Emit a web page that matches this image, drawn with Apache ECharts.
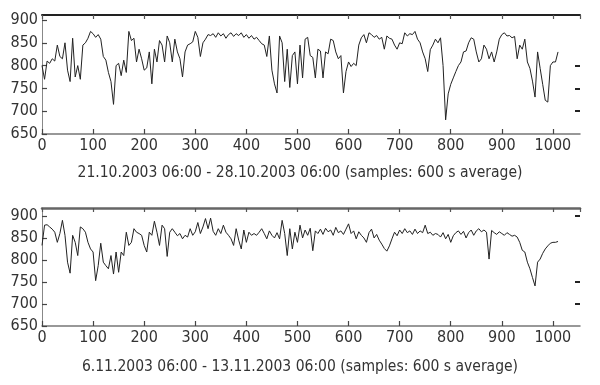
<!DOCTYPE html>
<html>
<head>
<meta charset="utf-8">
<script src="https://cdn.jsdelivr.net/npm/echarts@6/dist/echarts.min.js"></script>
<style>
html,body{margin:0;padding:0;background:#fff;}
#c{width:600px;height:385px;}
</style>
</head>
<body>
<div id="c"></div>
<script>
// sample index step
const step = 5;
const yTicks = [650, 700, 750, 800, 850, 900];
const xTicks = [0, 100, 200, 300, 400, 500, 600, 700, 800, 900, 1000];
const rightTicks = [[700, 750, 800], [700, 750, 900]];
const title1 = '21.10.2003 06:00 - 28.10.2003 06:00 (samples: 600 s average)';
const title2 = '6.11.2003 06:00 - 13.11.2003 06:00 (samples: 600 s average)';

const series1 = [
800,770,810,805,815,810,845,820,815,850,790,765,860,775,800,770,845,850,860,875,
870,862,868,858,820,812,785,765,715,800,805,778,812,785,875,855,860,808,836,815,
790,795,830,760,836,808,855,845,808,865,850,808,858,830,815,775,830,845,848,852,
875,862,820,850,858,868,866,870,862,872,865,870,860,868,872,864,870,866,872,862,
868,860,866,858,862,855,848,845,820,865,790,760,740,865,850,765,836,752,822,830,
760,845,773,858,862,822,818,773,836,832,773,830,826,858,855,830,815,822,740,787,
808,798,805,800,845,861,868,850,872,868,862,866,858,862,836,865,860,858,845,836,
850,848,872,865,870,868,875,858,850,830,815,787,835,845,858,850,861,800,681,738,
759,773,787,800,808,830,832,850,861,858,830,808,815,845,836,815,830,808,830,858,
868,872,865,866,861,864,815,845,836,858,808,794,766,731,830,794,759,724,720,800,
808,808,830
];
const series2 = [
833,879,880,875,870,863,840,860,890,856,795,770,856,840,810,875,871,863,840,825,
818,753,787,838,795,787,780,810,768,818,772,818,810,863,833,840,871,863,860,856,
833,818,863,856,888,863,833,879,871,808,863,871,863,855,860,848,856,852,871,856,
864,885,860,875,894,871,895,865,856,871,860,879,863,856,848,833,871,845,825,868,
840,863,856,860,856,863,871,860,848,866,856,850,862,848,890,860,810,871,825,863,
840,879,850,868,856,872,821,866,860,870,858,872,864,868,856,874,862,866,858,870,
882,860,866,848,864,856,850,840,862,870,850,858,845,836,826,820,832,848,863,855,
868,860,871,862,866,858,870,860,866,862,879,860,863,856,860,858,852,862,848,858,
840,855,862,866,858,865,850,862,868,856,866,871,864,868,863,802,867,862,858,864,
860,856,862,858,854,856,852,840,822,818,795,780,760,741,795,802,815,825,832,838,
840,840,842
];

function toPairs(arr){ return arr.map((v,i)=>[i*step, v]); }

const FONT = '"DejaVu Sans Condensed","Liberation Sans Narrow",sans-serif';
const labelStyle = {fontFamily: FONT, fontSize: 16, color: '#333'};
const maxes = [911, 918];

const rects = [
  {left: 42, right: 20, top: 15, height: 119},
  {left: 42, right: 20, top: 208, height: 118}
];

function xAxes(){
  const out = [];
  [0,1].forEach(g=>{
    out.push({
      type:'value', gridIndex:g, min:0, max:1053, interval:100, position:'bottom',
      axisLine:{show:true, onZero:false, lineStyle:{color:'#777', width:1.5}},
      axisTick:{show:true, inside:true, length:5, lineStyle:{color:'#444', width:1.2}},
      splitLine:{show:false},
      axisLabel:Object.assign({margin:4, showMaxLabel:false,
        formatter:(v)=> (xTicks.indexOf(v)>=0 ? String(v) : '')}, labelStyle)
    });
    out.push({
      type:'value', gridIndex:g, min:0, max:1053, interval:100, position:'top',
      axisLine:{show:true, onZero:false, lineStyle:{color: g===0 ? '#222' : '#666', width: g===0 ? 2 : 2.5}},
      axisTick:{show:true, inside:true, length:4, lineStyle:{color:'#555', width:1.2}},
      axisLabel:{show:false}, splitLine:{show:false}
    });
  });
  // hidden x axes for the overlay grids that carry the right-hand ticks
  [2,3].forEach(g=>{
    out.push({type:'value', gridIndex:g, min:0, max:1053, show:false});
  });
  return out;
}
function yAxes(){
  const out = [];
  [0,1].forEach(g=>{
    out.push({
      type:'value', gridIndex:g, min:650, max:maxes[g], interval:50, position:'left',
      axisLine:{show:true, onZero:false, lineStyle:{color:'#888', width:1}},
      axisTick:{show:true, inside:true, length:5, lineStyle:{color:'#444', width:1.2}},
      splitLine:{show:false},
      axisLabel:Object.assign({margin:4, showMaxLabel:false,
        formatter:(v)=> (yTicks.indexOf(v)>=0 ? String(v) : '')}, labelStyle)
    });
  });
  [2,3].forEach(g=>{
    out.push({
      type:'value', gridIndex:g, min:650, max:maxes[g-2], interval:50, position:'right',
      axisLine:{show:true, onZero:false, lineStyle:{color:'rgba(255,255,255,0)', width:1}},
      axisTick:{show:true, inside:true, length:5, lineStyle:{color:'#222', width:2},
        customValues: rightTicks[g-2]},
      axisLabel:{show:true, customValues: rightTicks[g-2], formatter:()=>''},
      splitLine:{show:false}
    });
  });
  return out;
}

const chart = echarts.init(document.getElementById('c'), null, {renderer:'canvas'});
chart.setOption({
  animation:false,
  backgroundColor:'#fff',
  grid: [rects[0], rects[1], Object.assign({}, rects[0]), Object.assign({}, rects[1])],
  xAxis: xAxes(),
  yAxis: yAxes(),
  title:[
    {text:title1, left:'center', top:160, textStyle:{fontFamily:FONT, fontSize:15.5, fontWeight:'normal', color:'#333'}},
    {text:title2, left:'center', top:354, textStyle:{fontFamily:FONT, fontSize:15.5, fontWeight:'normal', color:'#333'}}
  ],
  series:[
    {type:'line', xAxisIndex:0, yAxisIndex:0, data:toPairs(series1), showSymbol:false,
     lineStyle:{color:'#222', width:1}},
    {type:'line', xAxisIndex:2, yAxisIndex:1, data:toPairs(series2), showSymbol:false,
     lineStyle:{color:'#222', width:1}}
  ]
});
</script>
</body>
</html>
